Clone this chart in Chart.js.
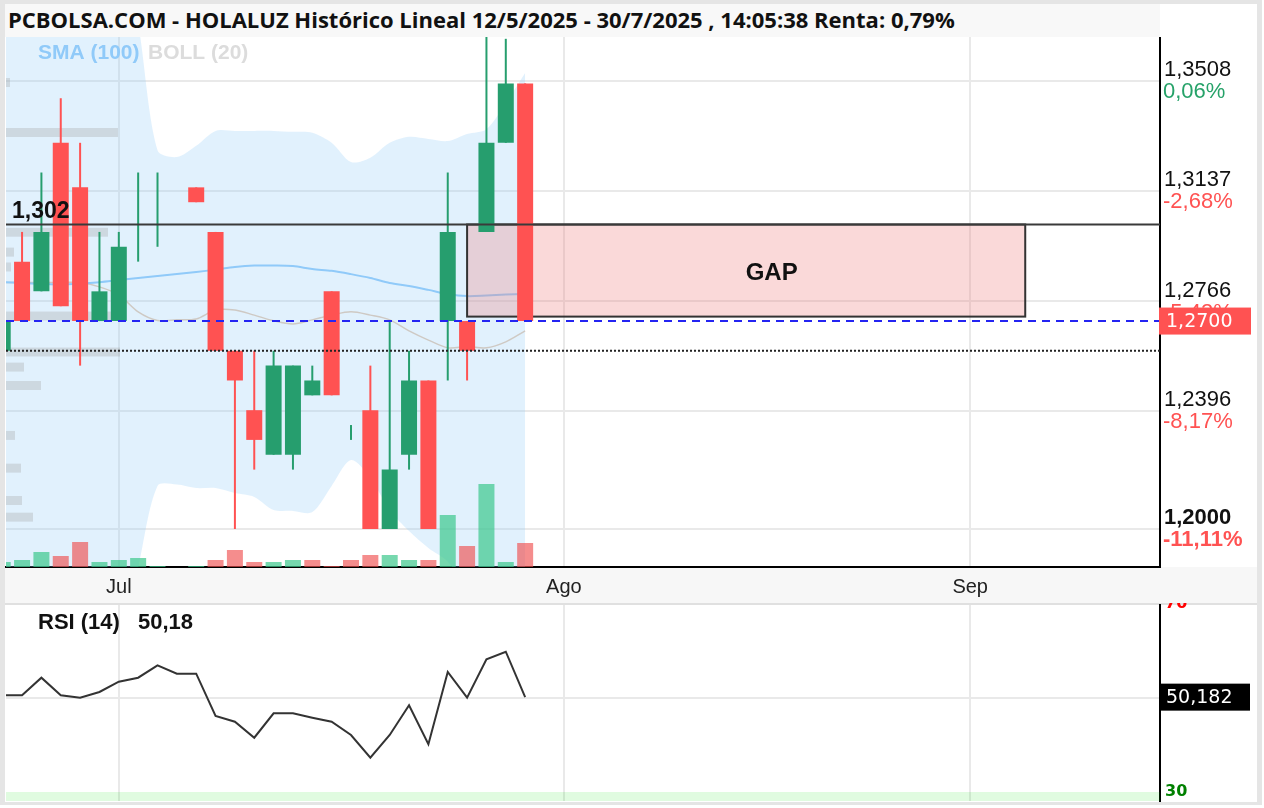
<!DOCTYPE html>
<html lang="es">
<head>
<meta charset="utf-8">
<title>HOLALUZ Histórico</title>
<script src="https://cdn.jsdelivr.net/npm/chart.js@4.4.1/dist/chart.umd.min.js"></script>
<style>
  html, body { margin:0; padding:0; width:1264px; height:808px; overflow:hidden; background:#fff; }
  #frame { position:absolute; left:0; top:0; width:1262px; height:805px; background:#e5e5e5; }
  #panel { position:absolute; left:5px; top:4px; width:1252px; height:798px; background:#fff; }
  #title { position:absolute; left:5px; top:4px; width:1155px; height:33px; background:#f8f8f8;
           font-family:'Open Sans', sans-serif; font-weight:700; font-size:22px; color:#111;
           line-height:31px; padding-left:3px; box-sizing:border-box; white-space:nowrap; }
  #xstrip { position:absolute; left:5px; top:567px; width:1252px; height:36px; background:#f7f7f7; }
  #sep { position:absolute; left:5px; top:603px; width:1252px; height:2px; background:#e0e0e0; }
  canvas { position:absolute; left:0; }
  #main { top:37px; }
  #rsi { top:603px; }
</style>
</head>
<body>
<div id="frame"></div>
<div id="panel"></div>
<div id="title">PCBOLSA.COM - HOLALUZ Histórico Lineal 12/5/2025 - 30/7/2025 , 14:05:38 Renta: 0,79%</div>
<div id="xstrip"></div>
<div id="sep"></div>
<canvas id="main" width="1257" height="566" style="width:1257px;height:566px"></canvas>
<canvas id="rsi" width="1257" height="199" style="width:1257px;height:199px"></canvas>
<script>
// ---------------- DATA ----------------
// trading-day calendar of the x axis
const axisDates = [
  '2025-06-23','2025-06-24','2025-06-25','2025-06-26','2025-06-27','2025-06-30',
  '2025-07-01','2025-07-02','2025-07-03','2025-07-04','2025-07-07','2025-07-08','2025-07-09','2025-07-10','2025-07-11',
  '2025-07-14','2025-07-15','2025-07-16','2025-07-17','2025-07-18','2025-07-21','2025-07-22','2025-07-23','2025-07-24','2025-07-25',
  '2025-07-28','2025-07-29','2025-07-30','2025-07-31','2025-08-01',
  '2025-08-04','2025-08-05','2025-08-06','2025-08-07','2025-08-08','2025-08-11','2025-08-12','2025-08-13','2025-08-14','2025-08-15',
  '2025-08-18','2025-08-19','2025-08-20','2025-08-21','2025-08-22','2025-08-25','2025-08-26','2025-08-27','2025-08-28','2025-08-29',
  '2025-09-01','2025-09-02','2025-09-03','2025-09-04','2025-09-05','2025-09-08','2025-09-09','2025-09-10','2025-09-11','2025-09-12'
];
const monthTickDates  = ['2025-07-01', '2025-08-01', '2025-09-01'];
const monthTickLabels = ['Jul', 'Ago', 'Sep'];

const candleDates = [
  '2025-06-23','2025-06-24','2025-06-25','2025-06-26','2025-06-27','2025-06-30',
  '2025-07-01','2025-07-02','2025-07-03','2025-07-04','2025-07-07','2025-07-08','2025-07-09','2025-07-10','2025-07-11',
  '2025-07-14','2025-07-15','2025-07-16','2025-07-17','2025-07-18','2025-07-21','2025-07-22','2025-07-23','2025-07-24','2025-07-25',
  '2025-07-28','2025-07-29','2025-07-30'
];
const openP  = [1.260,1.290,1.280,1.330,1.315,1.270,1.270,1.300,1.315,1.310,1.315,1.300,1.260,1.240,1.225,1.225,1.245,1.280,1.235,1.240,1.200,1.225,1.250,1.270,1.270,1.300,1.330,1.350];
const highP  = [1.270,1.300,1.320,1.345,1.330,1.300,1.300,1.320,1.320,1.310,1.315,1.300,1.260,1.260,1.260,1.255,1.255,1.280,1.235,1.255,1.270,1.260,1.250,1.320,1.270,1.370,1.365,1.350];
const lowP   = [1.260,1.270,1.280,1.275,1.255,1.270,1.270,1.290,1.295,1.310,1.310,1.260,1.200,1.220,1.225,1.220,1.245,1.245,1.230,1.200,1.200,1.220,1.200,1.250,1.250,1.300,1.330,1.270];
const closeP = [1.270,1.270,1.300,1.275,1.270,1.280,1.295,1.300,1.315,1.310,1.310,1.260,1.250,1.230,1.255,1.255,1.250,1.245,1.235,1.200,1.220,1.250,1.200,1.300,1.260,1.330,1.350,1.270];
const volume = [5,7,15,11,25,5,7,9,1,0,1,7,17,5,5,7,7,1,7,12,12,7,7,52,21,83,5,24];

const sma100   = [1.2831,1.2828,1.2825,1.2823,1.2826,1.2831,1.2838,1.2845,1.2852,1.2858,1.2865,1.2873,1.2882,1.2887,1.2887,1.2885,1.2875,1.2869,1.2858,1.2845,1.2828,1.2818,1.2805,1.2791,1.2784,1.2786,1.2789,1.2791];
const bollMid  = [1.2830,1.2830,1.2830,1.2830,1.2830,1.2815,1.2788,1.2731,1.2702,1.2704,1.2707,1.2737,1.2737,1.2720,1.2701,1.2690,1.2704,1.2720,1.2731,1.2720,1.2704,1.2667,1.2636,1.2610,1.2614,1.2610,1.2630,1.2667];
const bollUp   = [1.420,1.420,1.420,1.420,1.420,1.420,1.400,1.370,1.3275,1.3252,1.3290,1.3340,1.3340,1.3340,1.3340,1.3337,1.3334,1.3300,1.3235,1.3250,1.3300,1.3320,1.3313,1.3306,1.3330,1.3346,1.3434,1.3535];
const bollLow  = [1.150,1.150,1.150,1.150,1.150,1.150,1.160,1.187,1.2145,1.2150,1.2138,1.2138,1.2121,1.2108,1.2064,1.2061,1.2057,1.2145,1.2232,1.2172,1.2064,1.1993,1.1936,1.1890,1.1800,1.1700,1.1650,1.1650];

const rsi14 = [50.57,50.57,54.32,50.57,50.06,51.28,53.47,54.32,56.96,55.17,55.17,46.17,44.96,41.55,46.74,46.74,45.81,44.96,42.13,37.30,42.13,48.45,40.15,55.53,50.06,58.23,59.85,50.182];

// volume-by-price profile (left side)
const vpPrice  = [1.3503,1.3335,1.2999,1.2932,1.2882,1.2717,1.2596,1.2545,1.2483,1.2315,1.2205,1.2096,1.2040];
const vpVolume = [4,112,102,8,5,112,114,18,35,9,15,16,27];

// right axis ticks
const yTickValues = [1.3508, 1.3137, 1.2766, 1.2396, 1.2000];
const yTickPct    = ['0,06%', '-2,68%', '-5,43%', '-8,17%', '-11,11%'];

// levels & gap
const resistance = 1.3025, resistanceLabel = '1,302';
const lastPrice = 1.2700;
const supportDotted = 1.2600;
const gapTop = 1.3025, gapBottom = 1.2715;
const gapStartDate = '2025-07-25', gapEndDate = '2025-09-04';
const gapLabel = 'GAP';

// ---------------- CHART ----------------
const GREEN = '#269e6e', RED = '#ff5252';
const idx = d => axisDates.indexOf(d);
const xs = candleDates.map(idx);
const candleCol = closeP.map((c,i) => c >= openP[i] ? GREEN : RED);
const volCol = closeP.map((c,i) => (i === 0 || c >= closeP[i-1]) ? 'rgba(60,200,140,0.7)' : 'rgba(240,80,80,0.65)');
const X_MIN = 0.17, X_MAX = 59.81;
const Y_MIN = 1.18722, Y_MAX = 1.36561;
const fmt = (v, d) => v.toFixed(d).replace('.', ',');

Chart.defaults.font.family = "'Liberation Sans', Arial, sans-serif";
Chart.defaults.animation = false;

const monthTicks = scale => { scale.ticks = monthTickDates.map(d => ({ value: idx(d) })); };
const monthLabel = v => { const k = monthTickDates.findIndex(d => idx(d) === v); return k >= 0 ? monthTickLabels[k] : ''; };

function hline(ctx, a, yy, color, width, dash) {
  ctx.save();
  ctx.strokeStyle = color; ctx.lineWidth = width; ctx.setLineDash(dash || []);
  ctx.beginPath(); ctx.moveTo(a.left, yy); ctx.lineTo(a.right, yy); ctx.stroke();
  ctx.restore();
}

const mainOverlay = {
  id: 'mainOverlay',
  beforeDatasetDraw(chart, args) {
    if (args.index !== 1) return; // gap box goes just under the candles
    const { ctx, chartArea: a, scales: { x, y } } = chart;
    const x0 = x.getPixelForValue(idx(gapStartDate));
    const x1 = x.getPixelForValue(idx(gapEndDate)) - 3;
    const y0 = y.getPixelForValue(gapTop), y1 = y.getPixelForValue(gapBottom);
    ctx.save();
    ctx.beginPath(); ctx.rect(a.left, a.top, a.right - a.left, a.bottom - a.top); ctx.clip();
    ctx.fillStyle = 'rgba(240,128,128,0.3)';
    ctx.fillRect(x0, y0, x1 - x0, y1 - y0);
    ctx.strokeStyle = '#333'; ctx.lineWidth = 2;
    ctx.strokeRect(x0, y0, x1 - x0, y1 - y0);
    ctx.restore();
  },
  afterDatasetsDraw(chart) {
    const { ctx, chartArea: a, scales: { x, y } } = chart;
    ctx.save();
    ctx.beginPath(); ctx.rect(a.left, a.top, a.right - a.left, a.bottom - a.top); ctx.clip();
    hline(ctx, a, y.getPixelForValue(resistance), '#3a3a3a', 2);
    hline(ctx, a, y.getPixelForValue(lastPrice), '#2424f2', 2, [8, 6]);
    hline(ctx, a, y.getPixelForValue(supportDotted), '#222', 2, [2, 2]);
    ctx.textBaseline = 'middle';
    ctx.font = "bold 23px 'Liberation Sans'";
    ctx.fillStyle = '#111';
    ctx.textAlign = 'left';
    ctx.fillText(resistanceLabel, 12, y.getPixelForValue(resistance) - 13);
    // GAP label
    const gx = (x.getPixelForValue(idx(gapStartDate)) + x.getPixelForValue(idx(gapEndDate))) / 2 + 24;
    const gy = (y.getPixelForValue(gapTop) + y.getPixelForValue(gapBottom)) / 2 + 3;
    ctx.textAlign = 'center';
    ctx.font = "bold 24px 'Liberation Sans'";
    ctx.fillText(gapLabel, gx, gy);
    // indicator legend
    ctx.textAlign = 'left';
    ctx.font = "bold 21px 'Liberation Sans'";
    ctx.fillStyle = '#90caf9';
    ctx.fillText('SMA (100)', 38, 16);
    ctx.fillStyle = '#dcdcdc';
    ctx.fillText('BOLL (20)', 148, 16);
    ctx.restore();
  },
  afterDraw(chart) {
    const { ctx, chartArea: a, scales: { y } } = chart;
    ctx.save();
    ctx.textBaseline = 'middle'; ctx.textAlign = 'left';
    yTickValues.forEach((v, i) => {
      const yy = y.getPixelForValue(v);
      const bold = Math.abs(v * 10 - Math.round(v * 10)) < 1e-9;
      ctx.font = (bold ? 'bold ' : '') + "22px 'Liberation Sans'";
      ctx.fillStyle = '#111';
      ctx.fillText(fmt(v, 4), a.right + 4, yy - 11);
      ctx.fillStyle = yTickPct[i].startsWith('-') ? '#ff5252' : '#26a269';
      ctx.fillText(yTickPct[i], a.right + 3, yy + 11);
    });
    const yl = y.getPixelForValue(lastPrice);
    ctx.fillStyle = '#ff5252';
    ctx.fillRect(a.right - 1, yl - 13.5, 92, 27);
    ctx.fillStyle = '#fff';
    ctx.font = "19px 'DejaVu Sans'";
    ctx.fillText(fmt(lastPrice, 4), a.right + 6, yl + 1);
    ctx.restore();
  }
};

const noOffsetGrid = { color: '#e9e9e9', lineWidth: 2, drawTicks: false, offset: false };

new Chart(document.getElementById('main'), {
  type: 'line',
  data: {
    datasets: [
      { type: 'bar', label: 'Cuerpo', data: xs.map((x, i) => ({ x, y: [openP[i], closeP[i]] })),
        backgroundColor: candleCol, barThickness: 16, grouped: false, inflateAmount: 0, order: 1, xAxisID: 'x', yAxisID: 'y' },
      { type: 'bar', label: 'Mecha', data: xs.map((x, i) => ({ x, y: [lowP[i], highP[i]] })),
        backgroundColor: candleCol, barThickness: 2, grouped: false, inflateAmount: 0, order: 2, xAxisID: 'x', yAxisID: 'y' },
      { type: 'line', label: 'SMA (100)', data: xs.map((x, i) => ({ x, y: sma100[i] })),
        borderColor: '#90caf9', borderWidth: 2, pointRadius: 0, tension: 0.3, order: 6, xAxisID: 'x', yAxisID: 'y' },
      { type: 'line', label: 'BOLL media', data: xs.map((x, i) => ({ x, y: bollMid[i] })),
        borderColor: 'rgba(200,188,176,0.75)', borderWidth: 1.5, pointRadius: 0, tension: 0.3, order: 7, xAxisID: 'x', yAxisID: 'y' },
      { type: 'bar', label: 'Volumen', data: xs.map((x, i) => ({ x, y: volume[i] })),
        backgroundColor: volCol, barThickness: 16, grouped: false, inflateAmount: 0, order: 8, xAxisID: 'x', yAxisID: 'yVol' },
      { type: 'bar', label: 'Perfil volumen', indexAxis: 'y', data: vpPrice.map((p, i) => ({ x: vpVolume[i], y: p })),
        backgroundColor: 'rgba(160,160,160,0.3)', barThickness: 9, grouped: false, inflateAmount: 0, order: 9, xAxisID: 'xVp', yAxisID: 'y' },
      { type: 'line', label: 'BOLL sup', data: xs.map((x, i) => ({ x, y: bollUp[i] })),
        borderWidth: 0, pointRadius: 0, tension: 0.3, fill: '+1', backgroundColor: 'rgba(144,202,249,0.27)', order: 10, xAxisID: 'x', yAxisID: 'y' },
      { type: 'line', label: 'BOLL inf', data: xs.map((x, i) => ({ x, y: bollLow[i] })),
        borderWidth: 0, pointRadius: 0, tension: 0.3, fill: false, order: 11, xAxisID: 'x', yAxisID: 'y' }
    ]
  },
  options: {
    responsive: false, devicePixelRatio: 1, animation: false,
    layout: { padding: { left: 6, top: 0, right: 0, bottom: 0 } },
    plugins: { legend: { display: false }, tooltip: { enabled: false } },
    scales: {
      x: { type: 'linear', min: X_MIN, max: X_MAX, offset: false,
           afterBuildTicks: monthTicks, afterFit: s => { s.height = 36; },
           ticks: { callback: monthLabel, color: '#222', font: { size: 20 }, padding: 8, maxRotation: 0, autoSkip: false },
           grid: noOffsetGrid,
           border: { display: true, color: '#000', width: 2 } },
      y: { type: 'linear', position: 'right', min: Y_MIN, max: Y_MAX, offset: false,
           afterBuildTicks: s => { s.ticks = yTickValues.map(v => ({ value: v })); },
           afterFit: s => { s.width = 97; },
           ticks: { display: false },
           grid: noOffsetGrid,
           border: { display: true, color: '#000', width: 2 } },
      yVol: { type: 'linear', display: false, min: 0, max: 530, offset: false },
      xVp: { type: 'linear', display: false, min: 0, max: 1154, offset: false }
    }
  },
  plugins: [mainOverlay]
});

// ---------------- RSI ----------------
const RSI_MIN = 28.085, RSI_MAX = 69.787;
const rsiOverlay = {
  id: 'rsiOverlay',
  beforeDatasetsDraw(chart) {
    const { ctx, chartArea: a, scales: { y } } = chart;
    ctx.save();
    const y30 = y.getPixelForValue(30), y70 = y.getPixelForValue(70);
    ctx.fillStyle = 'rgba(0,220,0,0.12)';
    ctx.fillRect(a.left, y30, a.right - a.left, a.bottom - y30);
    ctx.fillStyle = 'rgba(255,0,0,0.10)';
    ctx.fillRect(a.left, a.top, a.right - a.left, Math.max(0, y70 - a.top));
    ctx.restore();
  },
  afterDraw(chart) {
    const { ctx, chartArea: a, scales: { y } } = chart;
    const last = rsi14[rsi14.length - 1];
    ctx.save();
    ctx.textBaseline = 'middle'; ctx.textAlign = 'left';
    ctx.fillStyle = '#111';
    ctx.font = "bold 22px 'Liberation Sans'";
    ctx.fillText('RSI (14)', 38, 20);
    ctx.fillText(fmt(last, 2), 138, 20);
    ctx.font = "bold 16px 'DejaVu Sans'";
    ctx.fillStyle = '#ff0000';
    ctx.fillText('70', a.right + 5, y.getPixelForValue(70));
    ctx.fillStyle = '#008000';
    ctx.fillText('30', a.right + 5, y.getPixelForValue(30));
    const yl = y.getPixelForValue(last);
    ctx.fillStyle = '#000';
    ctx.fillRect(a.right - 1, yl - 13.5, 91, 27);
    ctx.fillStyle = '#fff';
    ctx.font = "19px 'DejaVu Sans'";
    ctx.fillText(fmt(last, 3), a.right + 6, yl + 1);
    ctx.restore();
  }
};

new Chart(document.getElementById('rsi'), {
  type: 'line',
  data: {
    datasets: [
      { label: 'RSI (14)', data: xs.map((x, i) => ({ x, y: rsi14[i] })),
        borderColor: '#333', borderWidth: 2, pointRadius: 0, tension: 0 }
    ]
  },
  options: {
    responsive: false, devicePixelRatio: 1, animation: false,
    layout: { padding: { left: 6, top: 2, right: 0, bottom: 1 } },
    plugins: { legend: { display: false }, tooltip: { enabled: false } },
    scales: {
      x: { type: 'linear', min: X_MIN, max: X_MAX, offset: false,
           afterBuildTicks: monthTicks, afterFit: s => { s.height = 0; },
           ticks: { display: false },
           grid: noOffsetGrid,
           border: { display: false } },
      y: { type: 'linear', position: 'right', min: RSI_MIN, max: RSI_MAX, offset: false,
           afterBuildTicks: s => { s.ticks = [{ value: 50 }]; },
           afterFit: s => { s.width = 97; },
           ticks: { display: false },
           grid: noOffsetGrid,
           border: { display: true, color: '#000', width: 2 } }
    }
  },
  plugins: [rsiOverlay]
});
</script>
</body>
</html>
